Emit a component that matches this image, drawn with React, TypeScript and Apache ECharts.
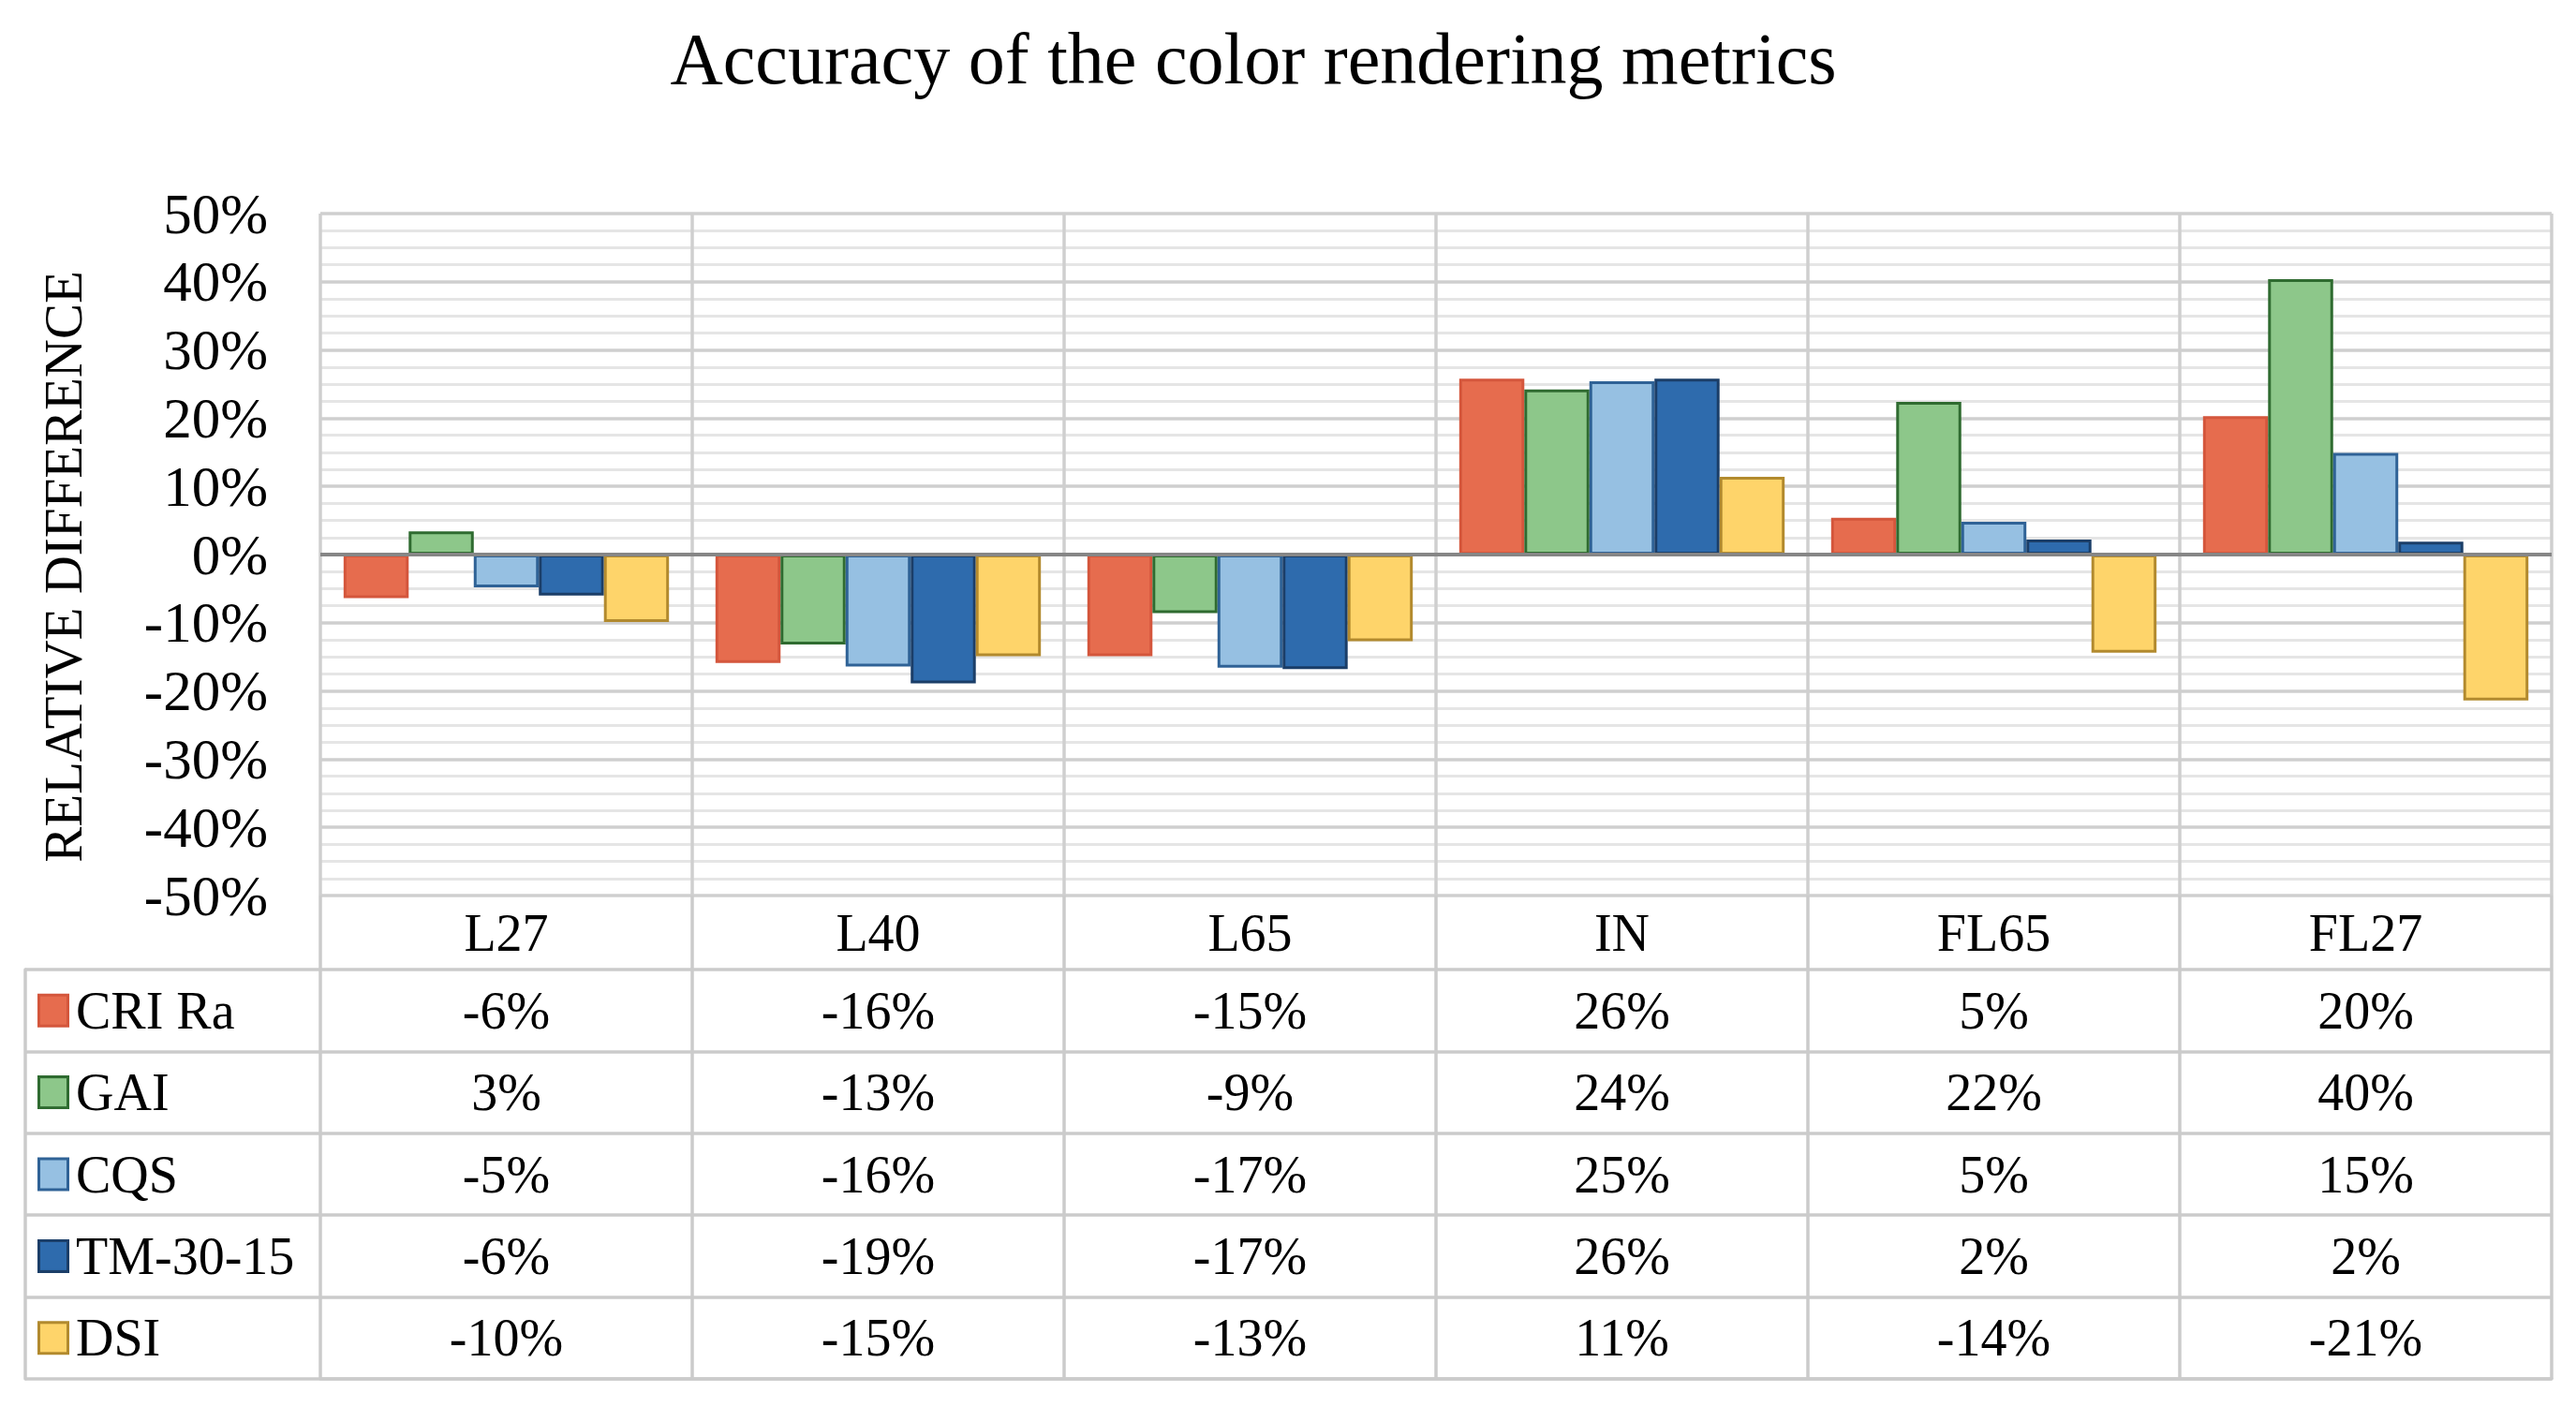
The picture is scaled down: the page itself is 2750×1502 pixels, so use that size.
import React, { useEffect, useRef } from 'react';
import * as echarts from 'echarts';

const titleText = 'Accuracy of the color rendering metrics';
const axisTitle = 'RELATIVE DIFFERENCE';
const categories = ['L27', 'L40', 'L65', 'IN', 'FL65', 'FL27'];
const seriesNames = ['CRI Ra', 'GAI', 'CQS', 'TM-30-15', 'DSI'];
const criRa = [-6.4, -15.9, -14.9, 25.8, 5.4, 20.3];
const gai = [3.4, -13.2, -8.6, 24.2, 22.4, 40.4];
const cqs = [-4.8, -16.4, -16.6, 25.4, 4.8, 14.9];
const tm3015 = [-6.0, -18.9, -16.8, 25.8, 2.2, 1.9];
const dsi = [-9.9, -14.9, -12.7, 11.4, -14.4, -21.4];
const seriesValues = [criRa, gai, cqs, tm3015, dsi];
const yMin = -50;
const yMax = 50;
const yInterval = 10;

const fillColors = ['#E66C4E', '#8DC78A', '#96C0E2', '#2E6BAD', '#FED46A'];
const borderColors = ['#D4563C', '#2F6B30', '#2F6296', '#1B3E68', '#B28A2E'];

const FONT = 'Liberation Serif';
const TEXT = '#000000';
const GRID_MAJOR = '#cfcfcf';
const GRID_MINOR = '#e5e5e5';
const TABLE_LINE = '#cbcbcb';

export default function App() {
  const ref = useRef<HTMLDivElement>(null);

  useEffect(() => {
    document.body.style.margin = '0';
    if (!ref.current) return;
    const chart = echarts.init(ref.current, null, { renderer: 'svg' });

    const rich: Record<string, any> = {
      t: { fontSize: 56, fontFamily: FONT, color: TEXT, padding: [0, 0, 0, 10] },
    };
    seriesNames.forEach((_, i) => {
      rich['s' + i] = {
        width: 28,
        height: 30,
        backgroundColor: fillColors[i],
        borderColor: borderColors[i],
        borderWidth: 3,
      };
    });

    const tableData: any[] = [];
    seriesValues.forEach((vals, i) => {
      vals.forEach((v, j) => {
        tableData.push([j, i, v]);
      });
    });

    const barSeries = seriesValues.map((vals, i) => ({
      type: 'bar',
      name: seriesNames[i],
      xAxisIndex: 0,
      yAxisIndex: 0,
      data: vals,
      barGap: '0%',
      barCategoryGap: '12.5%',
      itemStyle: {
        color: fillColors[i],
        borderColor: borderColors[i],
        borderWidth: 3,
      },
      silent: true,
      ...(i === seriesValues.length - 1
        ? {
            markLine: {
              silent: true,
              symbol: ['none', 'none'],
              label: { show: false },
              lineStyle: { color: '#868686', width: 4, type: 'solid' },
              data: [{ yAxis: 0 }],
            },
          }
        : {}),
    }));

    const option: any = {
      animation: false,
      backgroundColor: '#ffffff',
      textStyle: { fontFamily: FONT },
      graphic: [
        {
          type: 'text',
          x: 1338,
          y: 62,
          style: {
            text: titleText,
            fontSize: 78,
            fontFamily: FONT,
            fill: TEXT,
            textAlign: 'center',
            textVerticalAlign: 'middle',
          },
        },
        {
          type: 'text',
          x: 67,
          y: 605,
          rotation: Math.PI / 2,
          style: {
            text: axisTitle,
            fontSize: 57,
            fontFamily: FONT,
            fill: TEXT,
            textAlign: 'center',
            textVerticalAlign: 'middle',
          },
        },
      ],
      grid: [
        { left: 342, right: 26, top: 228, bottom: 546 },
        { left: 342, right: 26, top: 1035, bottom: 30 },
      ],
      xAxis: [
        {
          type: 'category',
          gridIndex: 0,
          data: categories,
          position: 'bottom',
          axisLine: { show: false, onZero: false },
          axisTick: {
            show: true,
            length: 79,
            alignWithLabel: false,
            lineStyle: { color: TABLE_LINE, width: 3.5 },
          },
          axisLabel: {
            fontSize: 56,
            fontFamily: FONT,
            color: TEXT,
            margin: 12,
          },
          splitLine: { show: true, lineStyle: { color: GRID_MAJOR, width: 3.5 } },
        },
        {
          type: 'category',
          gridIndex: 1,
          data: categories,
          position: 'bottom',
          axisLine: { show: true, onZero: false, lineStyle: { color: TABLE_LINE, width: 3.5 } },
          axisTick: { show: false },
          axisLabel: { show: false },
          splitLine: { show: true, lineStyle: { color: TABLE_LINE, width: 3.5 } },
        },
      ],
      yAxis: [
        {
          type: 'value',
          gridIndex: 0,
          min: yMin,
          max: yMax,
          interval: yInterval,
          axisLine: { show: false },
          axisTick: { show: false },
          axisLabel: {
            formatter: (v: number) => `${v}%`,
            fontSize: 61,
            fontFamily: FONT,
            color: TEXT,
            margin: 56,
          },
          splitLine: { show: true, lineStyle: { color: GRID_MAJOR, width: 3.5 } },
          minorTick: { show: false, splitNumber: 4 },
          minorSplitLine: { show: true, lineStyle: { color: GRID_MINOR, width: 3 } },
        },
        {
          type: 'category',
          gridIndex: 1,
          data: seriesNames,
          inverse: true,
          position: 'left',
          offset: 315,
          axisLine: { show: true, lineStyle: { color: TABLE_LINE, width: 3.5 } },
          axisTick: {
            show: true,
            inside: true,
            length: 315,
            alignWithLabel: false,
            lineStyle: { color: TABLE_LINE, width: 3.5 },
          },
          axisLabel: {
            inside: true,
            margin: 16,
            formatter: (v: string, i: number) => `{s${i}|}{t|${v}}`,
            rich,
          },
          splitLine: { show: true, lineStyle: { color: TABLE_LINE, width: 3.5 } },
        },
      ],
      series: [
        ...barSeries,
        {
          type: 'scatter',
          xAxisIndex: 1,
          yAxisIndex: 1,
          data: tableData,
          symbolSize: 1,
          itemStyle: { color: '#ffffff', opacity: 1 },
          silent: true,
          z: 5,
          label: {
            show: true,
            position: 'inside',
            formatter: (p: any) => `${Math.round(p.value[2])}%`,
            fontSize: 56,
            fontFamily: FONT,
            color: TEXT,
            opacity: 1,
            textBorderWidth: 0,
            textBorderColor: 'transparent',
          },
        },
      ],
    };

    chart.setOption(option);
    return () => {
      chart.dispose();
    };
  }, []);

  return (
    <div
      ref={ref}
      style={{ position: 'absolute', left: 0, top: 0, width: 2750, height: 1502, background: '#fff' }}
    />
  );
}
